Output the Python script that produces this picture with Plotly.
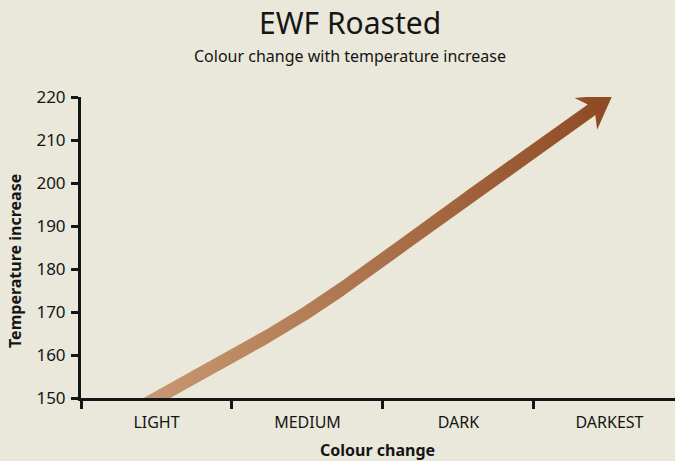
import numpy as np
import plotly.graph_objects as go

# ---------------- data ----------------
categories = ["LIGHT", "MEDIUM", "DARK", "DARKEST"]
temperatures = [150, 170, 195, 220]
y_tick_values = [150, 160, 170, 180, 190, 200, 210, 220]

title_text = "EWF Roasted"
subtitle_text = "Colour change with temperature increase"
x_title = "Colour change"
y_title = "Temperature increase"

# ---------------- style ----------------
W, H = 675, 461
L_M, R_M, T_M, B_M = 81, 0, 97, 63
X_RANGE = [-0.5, 3.434]
Y_RANGE = [150, 220]
BG = "#eae8da"
INK = "#151515"
LIGHT_C = "#c99a74"
DARK_C = "#8e4a22"
FONT = "Noto Sans"

HW = 6.5          # half line width (px)
HEAD_LEN = 33     # arrow head length (px)
HEAD_HALF = 19.5  # arrow head half width (px)
NOTCH = 7         # arrow head notch depth (px)
TIP_EXT = 4
START_EXT = 20

plot_w = W - L_M - R_M
plot_h = H - T_M - B_M


def to_px(x, y):
    px = L_M + (np.asarray(x, float) - X_RANGE[0]) / (X_RANGE[1] - X_RANGE[0]) * plot_w
    py = T_M + (Y_RANGE[1] - np.asarray(y, float)) / (Y_RANGE[1] - Y_RANGE[0]) * plot_h
    return px, py


def to_data(px, py):
    x = X_RANGE[0] + (px - L_M) / plot_w * (X_RANGE[1] - X_RANGE[0])
    y = Y_RANGE[1] - (py - T_M) / plot_h * (Y_RANGE[1] - Y_RANGE[0])
    return x, y


# smooth path through the data points (pixel space)
xi = np.arange(len(categories))
px, py = to_px(xi, temperatures)
P = np.column_stack([px, py])
Pp = np.vstack([2 * P[0] - P[1], P, 2 * P[-1] - P[-2]])
pts = []
n_seg = len(P) - 1
for i in range(n_seg):
    p0, p1, p2, p3 = Pp[i], Pp[i + 1], Pp[i + 2], Pp[i + 3]
    ts = np.linspace(0, 1, 80, endpoint=(i == n_seg - 1))
    for t in ts:
        c = 0.5 * (2 * p1 + (-p0 + p2) * t + (2 * p0 - 5 * p1 + 4 * p2 - p3) * t ** 2
                   + (-p0 + 3 * p1 - 3 * p2 + p3) * t ** 3)
        pts.append(c)
C = np.array(pts)


def unit(v):
    return v / np.linalg.norm(v)


d_end = unit(C[-1] - C[-2])
T = C[-1] + TIP_EXT * d_end
gap = HEAD_LEN - NOTCH
dist = np.linalg.norm(C - T, axis=1)
kept = C[dist > gap]
d = unit(T - kept[-1])
S = T - gap * d
d0 = unit(C[1] - C[0])
shaft = np.vstack([C[0] - START_EXT * d0, kept, S])

tan = np.gradient(shaft, axis=0)
tan = tan / np.linalg.norm(tan, axis=1)[:, None]
tan[-1] = d
nrm = np.column_stack([tan[:, 1], -tan[:, 0]])
upper = shaft + HW * nrm
lower = shaft - HW * nrm
nS = np.array([d[1], -d[0]])
B = T - HEAD_LEN * d
poly = np.vstack([upper, B + HEAD_HALF * nS, T, B - HEAD_HALF * nS, lower[::-1], upper[:1]])
ax_, ay_ = to_data(poly[:, 0], poly[:, 1])

fig = go.Figure()
fig.add_trace(go.Scatter(
    x=ax_, y=ay_, mode="lines", fill="toself",
    line=dict(width=0),
    fillgradient=dict(type="horizontal", colorscale=[[0, LIGHT_C], [1, DARK_C]]),
    hoverinfo="skip", showlegend=False,
))
fig.add_trace(go.Scatter(
    x=xi, y=temperatures, mode="markers", marker=dict(size=12, opacity=0),
    text=categories, hovertemplate="%{text}: %{y}<extra></extra>", showlegend=False,
))

fig.update_layout(
    width=W, height=H,
    margin=dict(l=L_M, r=R_M, t=T_M, b=B_M),
    paper_bgcolor=BG, plot_bgcolor=BG,
    font=dict(family=FONT, color=INK),
    showlegend=False,
    xaxis=dict(
        range=X_RANGE, tickmode="array", tickvals=list(xi), ticktext=categories,
        ticks="outside", ticklen=8, tickcolor="rgba(0,0,0,0)",
        minor=dict(tick0=-0.5, dtick=1, ticks="outside", ticklen=8, tickwidth=2.5,
                   tickcolor=INK, showgrid=False),
        showline=True, linecolor=INK, linewidth=3,
        showgrid=False, zeroline=False, tickfont=dict(size=16, color=INK),
        fixedrange=True,
    ),
    yaxis=dict(
        range=Y_RANGE, tickmode="array", tickvals=y_tick_values,
        ticks="outside", ticklen=7, tickwidth=2.5, tickcolor=INK,
        showline=True, linecolor=INK, linewidth=3,
        showgrid=False, zeroline=False, tickfont=dict(size=17, color=INK),
        ticklabelstandoff=2,
        fixedrange=True,
    ),
    annotations=[
        dict(text=title_text, xref="paper", yref="paper",
             x=(350 - L_M) / plot_w, y=(T_M + plot_h - 23) / plot_h,
             xanchor="center", yanchor="middle", showarrow=False,
             font=dict(size=30, color=INK)),
        dict(text=subtitle_text, xref="paper", yref="paper",
             x=(350 - L_M) / plot_w, y=(T_M + plot_h - 56) / plot_h,
             xanchor="center", yanchor="middle", showarrow=False,
             font=dict(size=16, color=INK)),
        dict(text="<b>" + x_title + "</b>", xref="paper", yref="paper",
             x=(377 - L_M) / plot_w, y=(T_M + plot_h - 450) / plot_h,
             xanchor="center", yanchor="middle", showarrow=False,
             font=dict(size=16, color=INK)),
        dict(text="<b>" + y_title + "</b>", xref="paper", yref="paper",
             x=(15 - L_M) / plot_w, y=(T_M + plot_h - 261) / plot_h,
             xanchor="center", yanchor="middle", showarrow=False, textangle=-90,
             font=dict(size=16, color=INK)),
    ],
)

fig.write_html(
    "out.html",
    config={"displayModeBar": False},
    post_script="document.body.style.margin='0';document.body.style.background='" + BG + "';",
)
